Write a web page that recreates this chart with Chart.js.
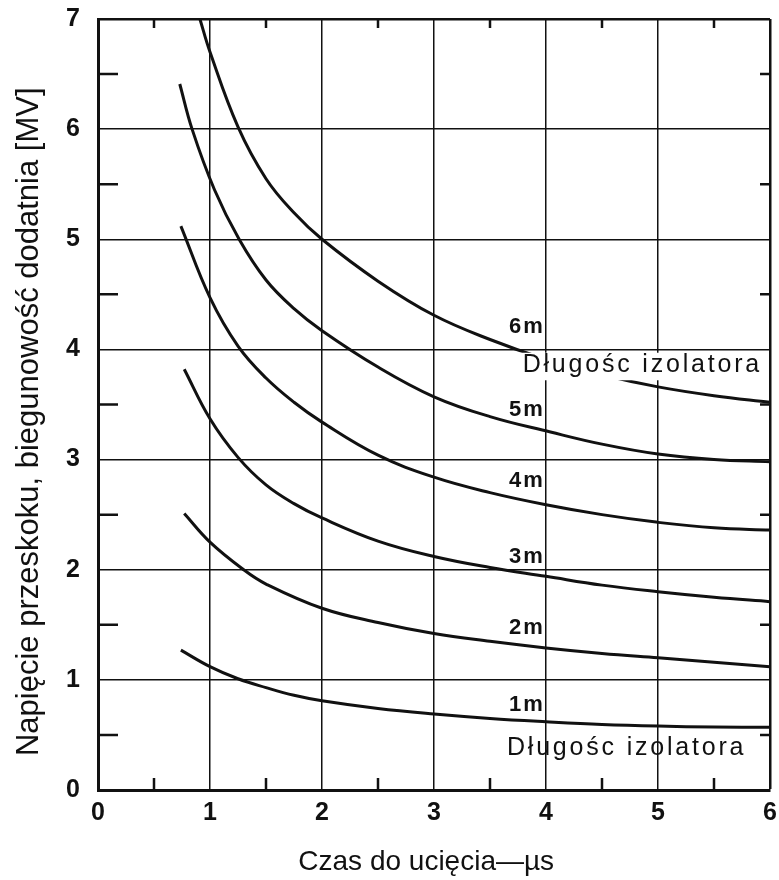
<!DOCTYPE html>
<html>
<head>
<meta charset="utf-8">
<script src="https://cdn.jsdelivr.net/npm/chart.js@4"></script>
<style>
  html, body { margin: 0; padding: 0; background: #fff; }
  #wrap { width: 779px; height: 880px; }
</style>
</head>
<body>
<div id="wrap"><canvas id="myChart" width="779" height="880"></canvas></div>
<script>
// czas do ucięcia [µs] i napięcie przeskoku [MV] dla kolejnych długości izolatora
const czas1m = [0.74, 1.0, 1.25, 1.5, 1.75, 2.0, 2.5, 3.0, 3.5, 4.0, 4.5, 5.0, 5.5, 6.0];
const nap1m  = [1.27, 1.12, 1.01, 0.93, 0.86, 0.81, 0.74, 0.69, 0.65, 0.62, 0.595, 0.58, 0.572, 0.57];
const czas2m = [0.77, 1.0, 1.3, 1.5, 2.0, 2.5, 3.0, 3.5, 4.0, 4.5, 5.0, 5.5, 6.0];
const nap2m  = [2.51, 2.25, 2.0, 1.87, 1.65, 1.52, 1.42, 1.35, 1.29, 1.24, 1.2, 1.16, 1.12];
const czas3m = [0.77, 1.0, 1.25, 1.5, 1.75, 2.0, 2.5, 3.0, 3.5, 4.0, 4.5, 5.0, 5.5, 6.0];
const nap3m  = [3.82, 3.37, 3.02, 2.77, 2.60, 2.47, 2.26, 2.12, 2.02, 1.94, 1.86, 1.80, 1.75, 1.71];
const czas4m = [0.74, 1.0, 1.25, 1.5, 1.75, 2.0, 2.5, 3.0, 3.5, 4.0, 4.5, 5.0, 5.5, 6.0];
const nap4m  = [5.12, 4.47, 4.03, 3.74, 3.52, 3.34, 3.04, 2.84, 2.70, 2.59, 2.50, 2.43, 2.38, 2.36];
const czas5m = [0.73, 0.84, 1.04, 1.26, 1.5, 1.75, 2.0, 2.5, 3.0, 3.5, 4.04, 4.5, 5.0, 5.5, 6.0];
const nap5m  = [6.41, 6.0, 5.45, 5.0, 4.63, 4.37, 4.17, 3.84, 3.57, 3.39, 3.25, 3.14, 3.05, 3.0, 2.98];
const czas6m = [0.91, 1.0, 1.25, 1.5, 1.75, 2.0, 2.5, 3.0, 3.5, 4.0, 4.5, 5.0, 5.5, 6.0];
const nap6m  = [7.0, 6.70, 6.02, 5.55, 5.24, 5.0, 4.62, 4.31, 4.09, 3.91, 3.77, 3.66, 3.58, 3.52];

const dlugosci = ['1m', '2m', '3m', '4m', '5m', '6m'];
const czasy = [czas1m, czas2m, czas3m, czas4m, czas5m, czas6m];
const napiecia = [nap1m, nap2m, nap3m, nap4m, nap5m, nap6m];

const FONT = "'Liberation Sans', Arial, sans-serif";

const datasets = dlugosci.map((name, i) => ({
  label: name,
  data: czasy[i].map((x, j) => ({ x: x, y: napiecia[i][j] })),
  showLine: true,
  borderColor: '#111',
  borderWidth: 3,
  pointRadius: 0,
  tension: 0.4
}));

// krótkie kreski co 0.5 skierowane do wnętrza wykresu
const minorTicks = {
  id: 'minorTicks',
  afterDraw(chart) {
    const { ctx, chartArea: a, scales: { x, y } } = chart;
    ctx.save();
    ctx.strokeStyle = '#111';
    ctx.lineWidth = 2.5;
    ctx.beginPath();
    for (let v = 0.5; v < 6; v += 1) {
      const px = x.getPixelForValue(v);
      ctx.moveTo(px, a.bottom); ctx.lineTo(px, a.bottom - 12);
      ctx.moveTo(px, a.top); ctx.lineTo(px, a.top + 9);
    }
    for (let v = 0.5; v < 7; v += 1) {
      const py = y.getPixelForValue(v);
      ctx.moveTo(a.left, py); ctx.lineTo(a.left + 20, py);
      ctx.moveTo(a.right, py); ctx.lineTo(a.right - 10, py);
    }
    ctx.stroke();
    ctx.restore();
  }
};

// opisy krzywych
const curveLabels = {
  id: 'curveLabels',
  afterDatasetsDraw(chart) {
    const { ctx, scales: { x, y } } = chart;
    ctx.save();
    // biały prostokąt pod górnym opisem
    const x0 = x.getPixelForValue(3.75), x1 = x.getPixelForValue(5.97);
    const y0 = y.getPixelForValue(3.97), y1 = y.getPixelForValue(3.72);
    ctx.fillStyle = '#fff';
    ctx.fillRect(x0, y0, x1 - x0, y1 - y0);

    ctx.fillStyle = '#111';
    ctx.textAlign = 'center';
    ctx.textBaseline = 'middle';
    ctx.font = 'bold 22px ' + FONT;
    ctx.letterSpacing = '2px';
    const pos = [[3.83, 0.77], [3.83, 1.47], [3.83, 2.12], [3.83, 2.81], [3.83, 3.45], [3.83, 4.2]];
    dlugosci.forEach((t, i) => {
      ctx.fillText(t, x.getPixelForValue(pos[i][0]), y.getPixelForValue(pos[i][1]));
    });
    ctx.font = '25px ' + FONT;
    ctx.letterSpacing = '2.8px';
    ctx.fillText('Długośc izolatora', x.getPixelForValue(4.86), y.getPixelForValue(3.86));
    ctx.fillText('Długośc izolatora', x.getPixelForValue(4.72), y.getPixelForValue(0.38));
    ctx.restore();
  }
};

const gridColor = '#111';

new Chart(document.getElementById('myChart'), {
  type: 'scatter',
  data: { datasets: datasets },
  options: {
    responsive: false,
    animation: false,
    layout: { padding: { top: 19, right: 9, left: 0, bottom: 0 } },
    plugins: { legend: { display: false }, tooltip: { enabled: false } },
    scales: {
      x: {
        type: 'linear',
        min: 0,
        max: 6,
        afterFit(scale) {
          scale.height = 90;
          scale.paddingLeft = 0;
          scale.paddingRight = 0;
        },
        ticks: { stepSize: 1, color: '#111', padding: 8, font: { family: FONT, size: 25, weight: 'bold' } },
        grid: {
          color: gridColor,
          drawTicks: false,
          lineWidth: (c) => (c.tick && c.tick.value === 6 ? 2.5 : 1.5)
        },
        border: { color: '#111', width: 3 },
        title: {
          display: true,
          text: 'Czas do ucięcia—µs  ',
          color: '#111',
          font: { family: FONT, size: 28 },
          padding: { top: 0, bottom: 1 }
        }
      },
      y: {
        type: 'linear',
        min: 0,
        max: 7,
        afterFit(scale) {
          scale.width = 98;
          scale.paddingTop = 0;
          scale.paddingBottom = 0;
        },
        ticks: { stepSize: 1, color: '#111', padding: 18, font: { family: FONT, size: 25, weight: 'bold' } },
        grid: {
          color: gridColor,
          drawTicks: false,
          lineWidth: (c) => (c.tick && c.tick.value === 7 ? 2.5 : 1.5)
        },
        border: { color: '#111', width: 3 },
        title: {
          display: true,
          text: 'Napięcie przeskoku, biegunowość dodatnia [MV]    ',
          color: '#111',
          font: { family: FONT, size: 31 },
          padding: { top: 11, bottom: 0 }
        }
      }
    }
  },
  plugins: [minorTicks, curveLabels]
});
</script>
</body>
</html>
